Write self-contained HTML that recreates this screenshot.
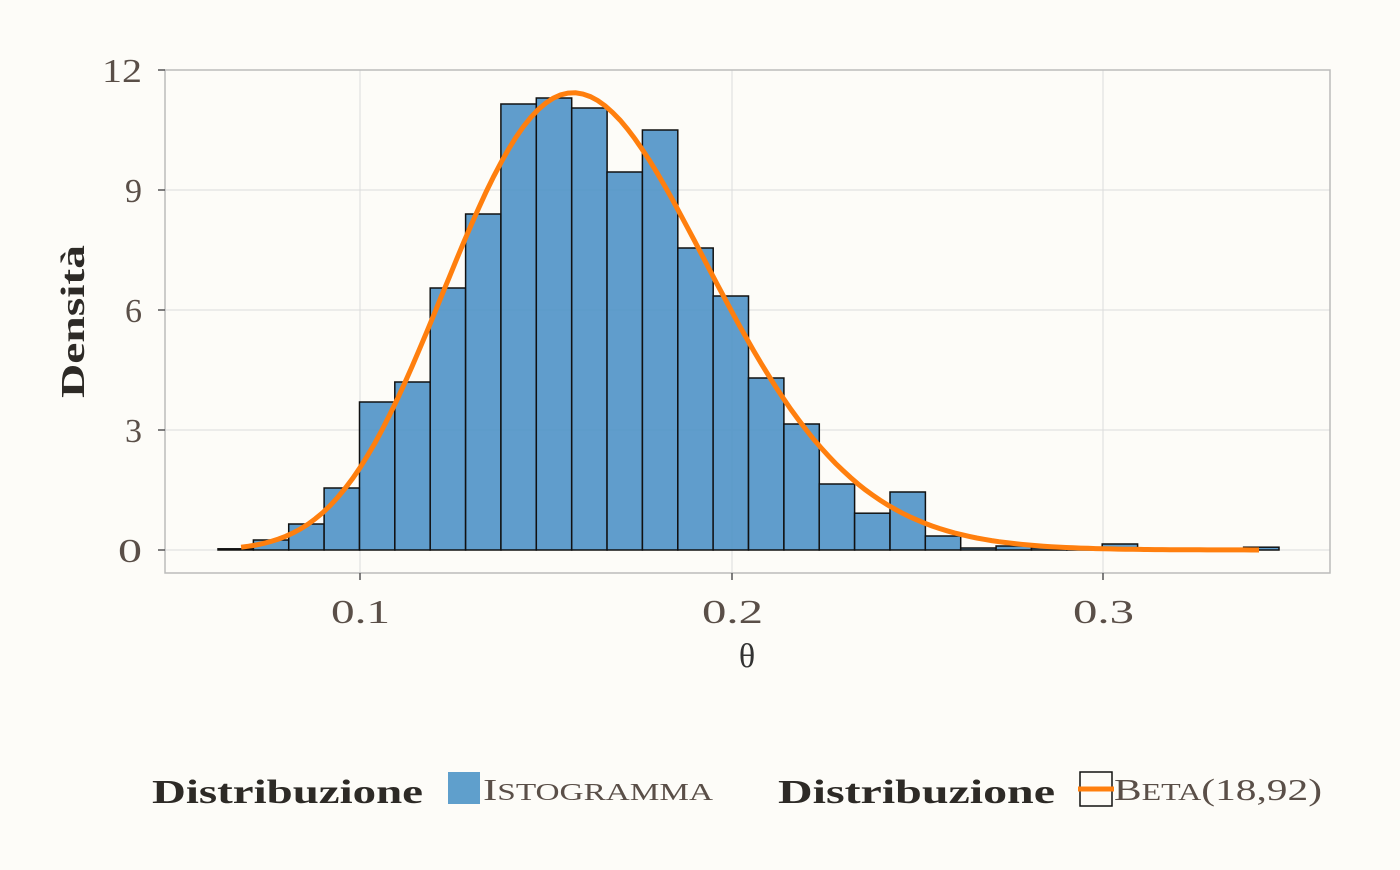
<!DOCTYPE html>
<html><head><meta charset="utf-8"><style>
body{margin:0;background:#fdfcf8;}
svg text{font-family:"Liberation Serif","DejaVu Serif",serif;}
</style></head><body>
<svg id="s" width="1400" height="865" xmlns="http://www.w3.org/2000/svg">
<rect width="1400" height="865" fill="#fdfcf8"/>
<g stroke="#dcdcdc" stroke-width="1">
<line x1="165" x2="1330" y1="70" y2="70"/><line x1="165" x2="1330" y1="190" y2="190"/>
<line x1="165" x2="1330" y1="310" y2="310"/><line x1="165" x2="1330" y1="430" y2="430"/>
<line x1="165" x2="1330" y1="550" y2="550"/>
<line x1="360" x2="360" y1="70" y2="573"/><line x1="732" x2="732" y1="70" y2="573"/><line x1="1103" x2="1103" y1="70" y2="573"/>
</g>
<g id="bars" fill="#4f92c6" fill-opacity="0.9" stroke="#111" stroke-width="1.5"></g>
<path id="curve" fill="none" stroke="#ff7f0e" stroke-width="5"/>
<rect x="165" y="70" width="1165" height="503" fill="none" stroke="#bbb" stroke-width="1.5"/>
<g stroke="#555" stroke-width="1.5">
<line x1="158" x2="165" y1="70" y2="70"/><line x1="158" x2="165" y1="190" y2="190"/><line x1="158" x2="165" y1="310" y2="310"/><line x1="158" x2="165" y1="430" y2="430"/><line x1="158" x2="165" y1="550" y2="550"/>
<line x1="360" x2="360" y1="573" y2="580"/><line x1="732" x2="732" y1="573" y2="580"/><line x1="1103" x2="1103" y1="573" y2="580"/>
</g>
<g fill="#5a4f48" font-size="34" text-anchor="end">
<text x="142" y="82" textLength="40" lengthAdjust="spacingAndGlyphs">12</text><text x="142" y="202">9</text><text x="142" y="322">6</text><text x="142" y="442">3</text><text x="142" y="562" textLength="24" lengthAdjust="spacingAndGlyphs">0</text>
</g>
<g fill="#5a4f48" font-size="34">
<text x="331" y="623" textLength="59" lengthAdjust="spacingAndGlyphs">0.1</text><text x="702" y="623" textLength="61" lengthAdjust="spacingAndGlyphs">0.2</text><text x="1073" y="623" textLength="61" lengthAdjust="spacingAndGlyphs">0.3</text>
<text x="747" y="667" fill="#333" text-anchor="middle">θ</text>
</g>
<text transform="translate(84,398) rotate(-90)" font-size="34" font-weight="bold" fill="#2d2a26" textLength="153" lengthAdjust="spacingAndGlyphs">Densità</text>
<text x="152" y="803" font-size="34" font-weight="bold" fill="#2d2a26" textLength="271" lengthAdjust="spacingAndGlyphs">Distribuzione</text>
<rect x="448" y="772" width="32" height="32" fill="#5f9fcc"/>
<text x="483" y="800" font-size="31" fill="#5a4f48" textLength="230" lengthAdjust="spacingAndGlyphs">I<tspan font-size="24">STOGRAMMA</tspan></text>
<text x="778" y="803" font-size="34" font-weight="bold" fill="#2d2a26" textLength="277" lengthAdjust="spacingAndGlyphs">Distribuzione</text>
<rect x="1080" y="772" width="32" height="34" fill="none" stroke="#111" stroke-width="1.5"/>
<line x1="1078" x2="1114" y1="789" y2="789" stroke="#ff7f0e" stroke-width="5"/>
<text x="1114" y="800" font-size="31" fill="#5a4f48" textLength="208" lengthAdjust="spacingAndGlyphs">B<tspan font-size="24">ETA</tspan>(18,92)</text>
</svg>
<script>
var h=[0.03,0.25,0.65,1.55,3.7,4.2,6.55,8.4,11.15,11.3,11.05,9.45,10.5,7.55,6.35,4.3,3.15,1.65,0.92,1.45,0.35,0.05,0.1,0.05,0.03,0.15,0.02,0.02,0.02,0.07];
var g=document.getElementById('bars'),s='',w=(1279-218)/30;
h.forEach(function(v,i){var x=218+i*w,y=550-v*40;s+='<rect x="'+x.toFixed(1)+'" y="'+y.toFixed(1)+'" width="'+w.toFixed(1)+'" height="'+(v*40).toFixed(1)+'"/>';});
g.innerHTML=s;
function lg(n){var r=0;for(var i=2;i<=n;i++)r+=Math.log(i);return r;}
var lb=lg(17)+lg(91)-lg(109),d='';
for(var t=0.068;t<=0.3435;t+=0.002){var y=Math.exp(17*Math.log(t)+91*Math.log(1-t)-lb);
var px=360+(t-0.1)*3715,py=550-y*40;d+=(d?'L':'M')+px.toFixed(1)+','+py.toFixed(1);}
document.getElementById('curve').setAttribute('d',d);
</script>
</body></html>
